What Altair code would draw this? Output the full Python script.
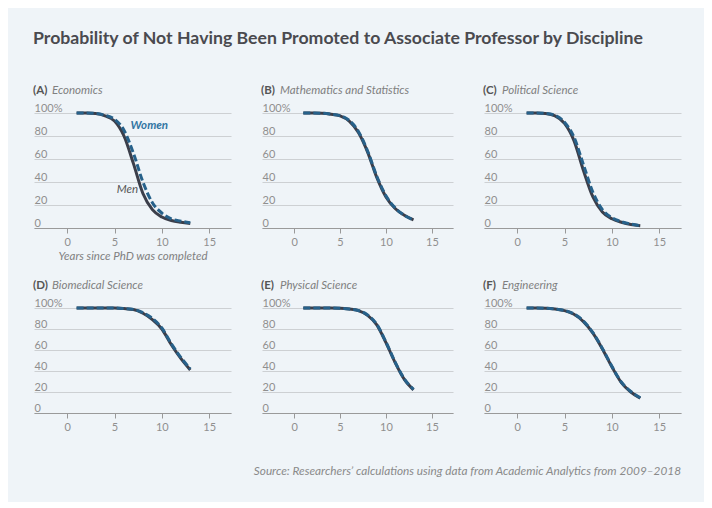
import altair as alt
import pandas as pd

years = list(range(1, 14))
letters = ["(A)", "(B)", "(C)", "(D)", "(E)", "(F)"]
disciplines = ["Economics", "Mathematics and Statistics", "Political Science",
               "Biomedical Science", "Physical Science", "Engineering"]

econ_men = [100, 100, 99.5, 97.5, 93, 80, 56, 30, 16, 9.5, 6.5, 5, 4]
econ_women = [100, 100, 99.6, 98, 94.5, 85, 65, 40, 22, 13, 8, 6, 4.5]
math_men = [100, 100, 99.8, 99, 97.5, 93, 83, 66, 44, 27, 17, 11, 7]
math_women = [100, 100, 99.8, 99, 97.7, 93.5, 84, 67, 45, 28, 17.5, 11, 7]
polsci_men = [100, 100, 99.5, 97.5, 91, 76, 50, 27, 14, 8, 5, 3, 2]
polsci_women = [100, 100, 99.6, 98, 92, 79, 55, 31, 16, 9, 5.5, 3.5, 2]
biomed_men = [100, 100, 100, 100, 100, 99.5, 98.5, 95, 89, 80, 65, 52, 41]
biomed_women = [100, 100, 100, 100, 100, 99.5, 98.7, 95.5, 90, 81, 66, 53, 42]
phys_men = [100, 100, 100, 100, 99.8, 99, 97.5, 93, 84, 67, 48, 32, 22]
phys_women = [100, 100, 100, 100, 99.8, 99, 97.6, 93.3, 84.5, 67.5, 48.5, 32.5, 22.5]
eng_men = [100, 100, 99.8, 99, 97.5, 94, 87, 76, 61, 44, 29, 20, 14]
eng_women = [100, 100, 99.8, 99, 97.6, 94.3, 87.5, 76.5, 61.5, 44.5, 29.5, 20.5, 14.5]

men_series = [econ_men, math_men, polsci_men, biomed_men, phys_men, eng_men]
women_series = [econ_women, math_women, polsci_women, biomed_women, phys_women, eng_women]

x_ticks = [0, 5, 10, 15]
y_ticks = [0, 20, 40, 60, 80, 100]

label_text = ["Women", "Men"]
label_year = [6.7, 7.5]
label_value = [89, 33]

title_text = "Probability of Not Having Been Promoted to Associate Professor by Discipline"
source_text = "Source: Researchers\u2019 calculations using data from Academic Analytics from 2009\u20132018"

MEN_COLOR = "#3b3e4a"
WOMEN_COLOR = "#27618a"
FONT = "Lato"

widths = [197, 191, 197]
heights = [115, 105]


def panel(i):
    row, col = divmod(i, 3)
    w, h = widths[col], heights[row]
    df_m = pd.DataFrame({"year": years, "value": men_series[i]})
    df_w = pd.DataFrame({"year": years, "value": women_series[i]})
    xaxis = alt.Axis(values=x_ticks, title="Years since PhD was completed" if i == 0 else None,
                     titleFontStyle="italic", titleFontWeight="normal", titleColor="#808080",
                     titleFontSize=11.5, titlePadding=3, titleFont=FONT,
                     grid=False, tickSize=5, tickColor="#999999", domainColor="#9a9a9a",
                     labelColor="#8f8f8f", labelFontSize=11, labelPadding=3, labelFlush=False,
                     labelOverlap=False, labelFont=FONT)
    yaxis = alt.Axis(values=y_ticks, title=None, grid=True, gridColor="#cdd0d3",
                     domain=False, ticks=False, tickSize=0, labelAlign="left", labelPadding=0,
                     labelBaseline="alphabetic", labelOffset=-1.5, labelFlush=False,
                     labelOverlap=False,
                     labelColor="#8f8f8f", labelFontSize=11, labelFont=FONT,
                     labelExpr="datum.value == 100 ? '100%' : datum.label")
    x = alt.X("year:Q", scale=alt.Scale(domain=[-3.5, 17.3], nice=False, zero=False), axis=xaxis)
    y = alt.Y("value:Q", scale=alt.Scale(domain=[0, 100], nice=False), axis=yaxis)

    men = alt.Chart(df_m).mark_line(strokeWidth=3, color=MEN_COLOR, interpolate="monotone").encode(x=x, y=y)
    women = alt.Chart(df_w).mark_line(strokeWidth=3, color=WOMEN_COLOR, interpolate="monotone",
                                      strokeDash=[7, 3]).encode(x=x, y=y)

    lab = alt.Chart(pd.DataFrame({"t": [letters[i]]})).mark_text(
        align="left", baseline="middle", font=FONT, fontWeight="bold", fontSize=11.5,
        color="#555555").encode(x=alt.value(-1), y=alt.value(-22), text="t:N")
    name = alt.Chart(pd.DataFrame({"t": [disciplines[i]]})).mark_text(
        align="left", baseline="middle", font=FONT, fontStyle="italic", fontSize=11.5,
        color="#808080").encode(x=alt.value(18), y=alt.value(-22), text="t:N")
    layers = [men, women, lab, name]

    if i == 0:
        ldf = pd.DataFrame({"t": label_text, "year": label_year, "value": label_value})
        wl = alt.Chart(ldf.iloc[[0]]).mark_text(
            align="left", baseline="middle", font=FONT, fontStyle="italic", fontWeight="bold",
            fontSize=11.5, color="#3276a3").encode(x=x, y=y, text="t:N")
        ml = alt.Chart(ldf.iloc[[1]]).mark_text(
            align="right", baseline="middle", font=FONT, fontStyle="italic",
            fontSize=11.5, color="#555555").encode(x=x, y=y, text="t:N")
        tt = alt.Chart(pd.DataFrame({"t": [title_text]})).mark_text(
            align="left", baseline="middle", font=FONT, fontWeight="bold", fontSize=17.7,
            color="#4a4a4f").encode(x=alt.value(-1), y=alt.value(-74), text="t:N")
        layers += [wl, ml, tt]
    if i == 5:
        st = alt.Chart(pd.DataFrame({"t": [source_text]})).mark_text(
            align="right", baseline="middle", font=FONT, fontStyle="italic", fontSize=11.8,
            color="#8a8a8a").encode(x=alt.value(w), y=alt.value(163), text="t:N")
        layers.append(st)

    return alt.layer(*layers).properties(width=w, height=h)


chart = alt.concat(*[panel(i) for i in range(6)], columns=3,
                   spacing={"row": 80, "column": 31}, bounds="flush").properties(
    padding={"left": 25, "top": 22, "right": 23, "bottom": 24}
).configure(background="#eff4f8").configure_view(stroke=None)

chart.save("out.html", embed_options={"renderer": "svg", "actions": False})
